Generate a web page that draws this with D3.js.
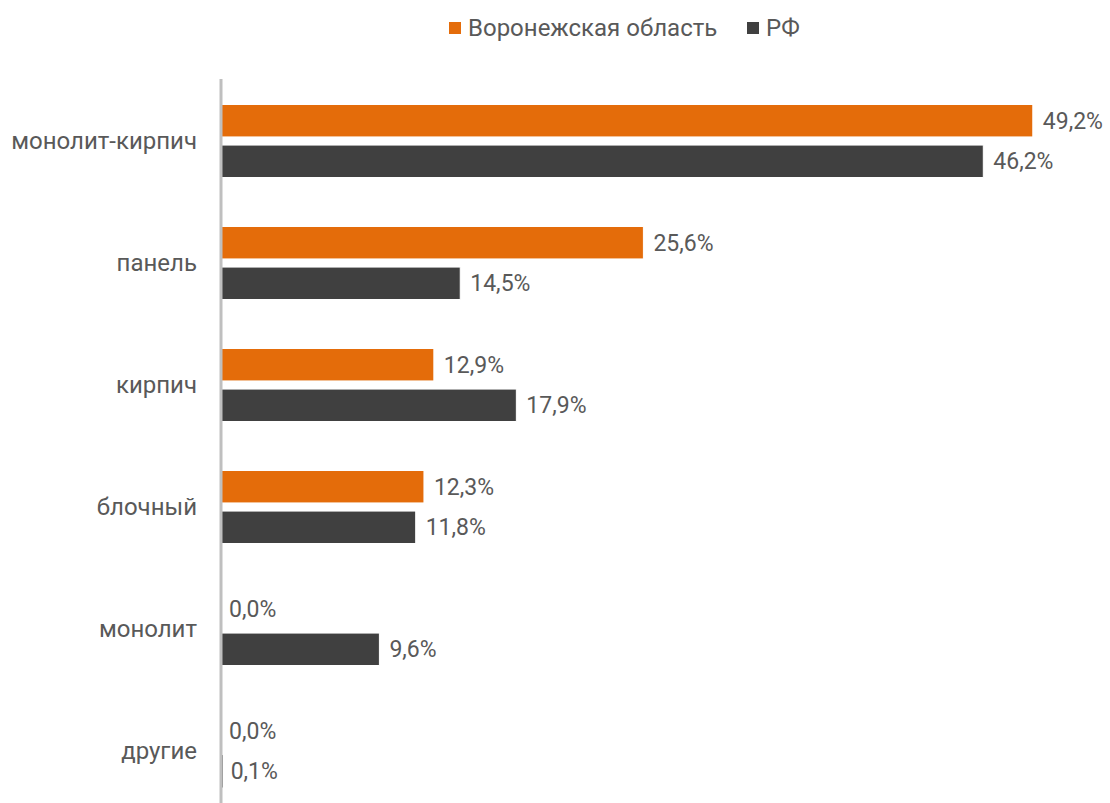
<!DOCTYPE html>
<html><head><meta charset="utf-8">
<script src="https://cdn.jsdelivr.net/npm/d3@7"></script>
<style>body{margin:0;background:#fff;} text{font-family:Roboto, sans-serif;}</style>
</head><body><svg id="c" width="1110" height="803"></svg>
<script>
const categories = ["монолит-кирпич","панель","кирпич","блочный","монолит","другие"];
const seriesNames = ["Воронежская область","РФ"];
const voronezh = [49.2, 25.6, 12.9, 12.3, 0.0, 0.0];
const rf = [46.2, 14.5, 17.9, 11.8, 9.6, 0.1];
const colors = ["#E46C0A","#404040"];

const svg = d3.select("#c");
const x = d3.scaleLinear().domain([0, 50]).range([221, 221 + 16.5*50]);
const y = d3.scaleBand().domain(categories).range([80, 812]).padding(0);
const ySub = d3.scaleBand().domain(seriesNames).range([24.5, 97.5]).paddingInner(0.2);
const fmt = v => v.toFixed(1).replace(".", ",") + "%";

const rows = categories.map((c, i) => ({c, vals: [voronezh[i], rf[i]]}));
const g = svg.selectAll("g.row").data(rows).join("g").attr("class","row")
  .attr("transform", d => `translate(0,${y(d.c)})`);

g.selectAll("rect").data(d => d.vals.map((v, j) => ({v, s: seriesNames[j], j})))
  .join("rect")
  .attr("x", x(0)).attr("y", d => ySub(d.s))
  .attr("width", d => x(d.v) - x(0)).attr("height", ySub.bandwidth())
  .attr("fill", d => colors[d.j])
  .attr("stroke", d => d.v > 1 ? "#ffffff" : "none").attr("stroke-width", 1);

g.selectAll("text.val").data(d => d.vals.map((v, j) => ({v, s: seriesNames[j]})))
  .join("text").attr("class","val")
  .attr("x", d => x(d.v) + (d.v > 0.5 ? 10 : 8))
  .attr("y", d => ySub(d.s) + ySub.bandwidth()/2)
  .attr("dy", "0.35em").attr("font-size", 23).attr("fill", "#595959")
  .text(d => fmt(d.v));

g.append("text").attr("x", 197).attr("y", y.bandwidth()/2).attr("dy","0.35em")
  .attr("text-anchor","end").attr("font-size", 24).attr("fill","#595959").text(d => d.c);

// axis
svg.append("line").attr("x1", 221).attr("x2", 221).attr("y1", 79).attr("y2", 803)
  .attr("stroke", "#BFBFBF").attr("stroke-width", 3);

// legend
const leg = [{n: seriesNames[0], x: 449}, {n: seriesNames[1], x: 747}];
const lg = svg.selectAll("g.leg").data(leg).join("g").attr("class","leg");
lg.append("rect").attr("x", d => d.x).attr("y", 22).attr("width", 12).attr("height", 12)
  .attr("fill", (d, i) => colors[i]);
lg.append("text").attr("x", d => d.x + 19).attr("y", 28).attr("dy","0.35em")
  .attr("font-size", 24).attr("fill","#595959").text(d => d.n);
</script></body></html>
